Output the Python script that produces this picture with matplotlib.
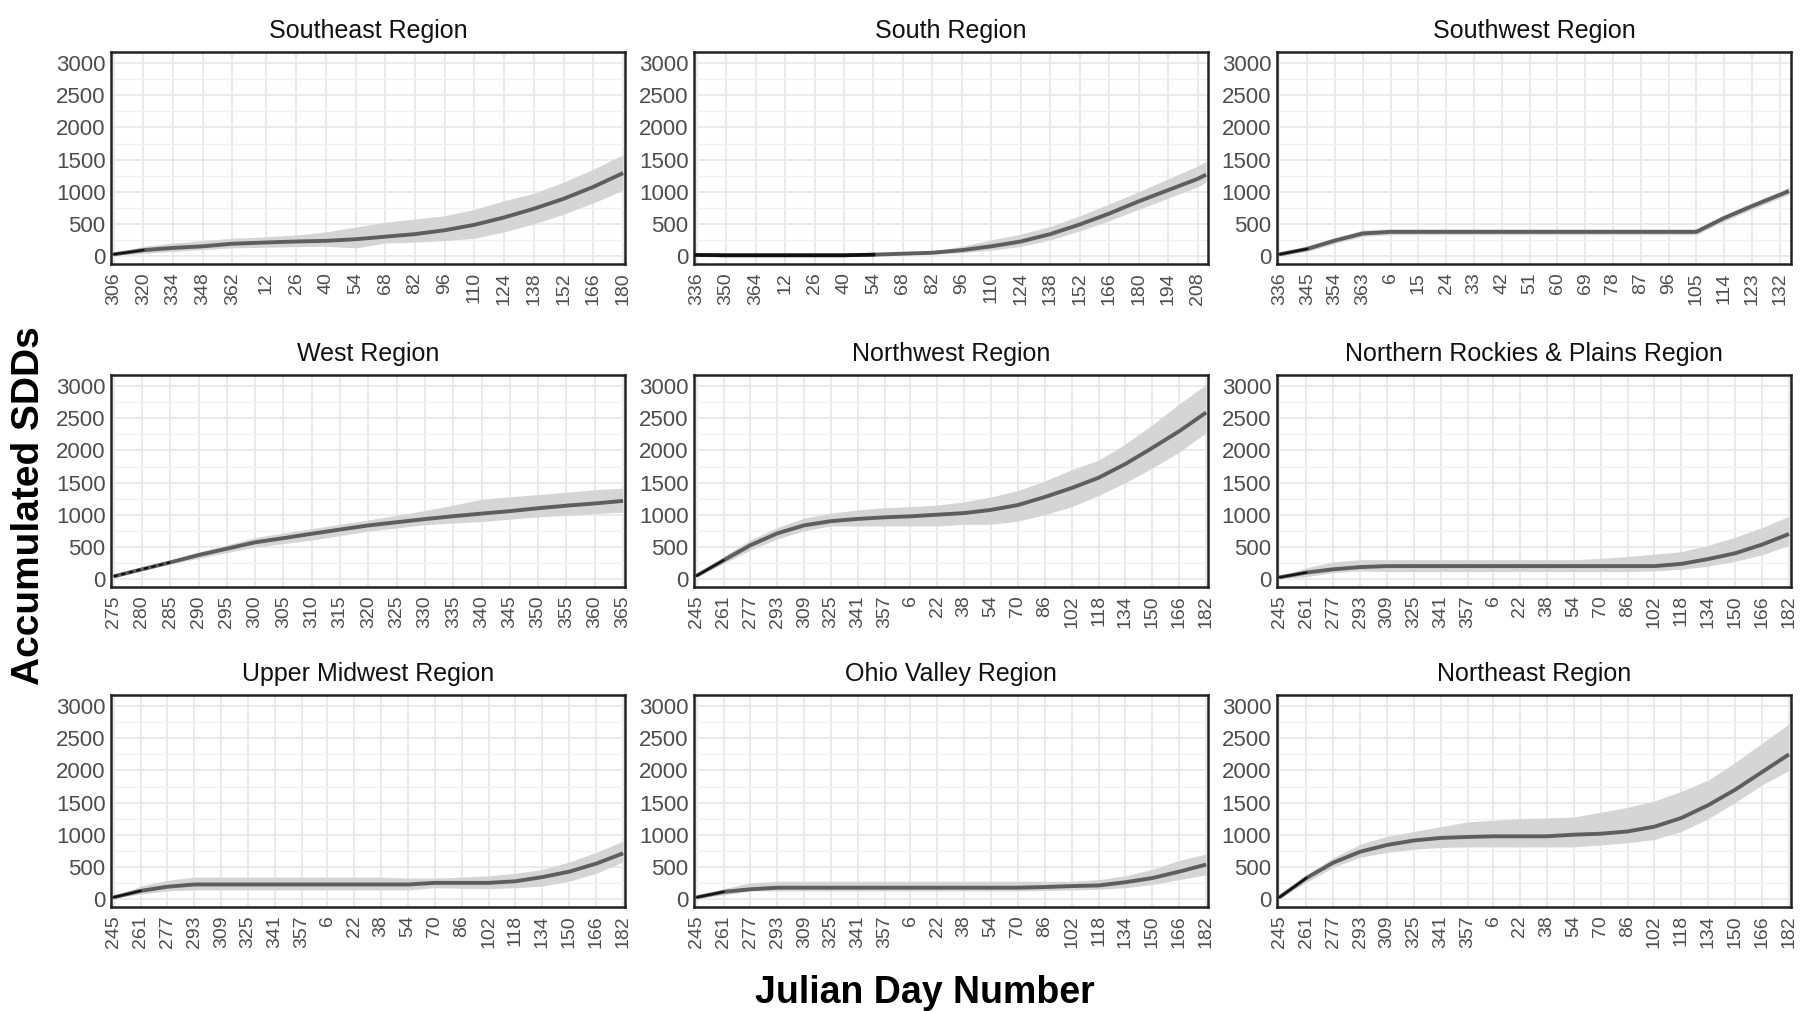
import matplotlib.pyplot as plt
from matplotlib import font_manager
from matplotlib.ticker import MultipleLocator

# narrow sans if available, otherwise regular Liberation Sans
names = {f.name for f in font_manager.fontManager.ttflist}
base_font = 'Liberation Sans Narrow' if 'Liberation Sans Narrow' in names else 'Liberation Sans'
plt.rcParams['font.family'] = [base_font, 'DejaVu Sans']

titles = ['Southeast Region', 'South Region', 'Southwest Region',
          'West Region', 'Northwest Region', 'Northern Rockies & Plains Region',
          'Upper Midwest Region', 'Ohio Valley Region', 'Northeast Region']

# tick labels (Julian day) for each region
se_days = [306, 320, 334, 348, 362, 12, 26, 40, 54, 68, 82, 96, 110, 124, 138, 152, 166, 180]
s_days = [336, 350, 364, 12, 26, 40, 54, 68, 82, 96, 110, 124, 138, 152, 166, 180, 194, 208]
sw_days = [336, 345, 354, 363, 6, 15, 24, 33, 42, 51, 60, 69, 78, 87, 96, 105, 114, 123, 132]
w_days = [275, 280, 285, 290, 295, 300, 305, 310, 315, 320, 325, 330, 335, 340, 345, 350, 355, 360, 365]
fall_days = [245, 261, 277, 293, 309, 325, 341, 357, 6, 22, 38, 54, 70, 86, 102, 118, 134, 150, 166, 182]

# series sampled at the tick days (plus a last day where the record runs past the final tick)
se_x = se_days
se_mean = [25, 90, 125, 150, 190, 210, 225, 235, 260, 300, 340, 400, 485, 600, 735, 890, 1075, 1290]
se_hi = [40, 150, 200, 240, 275, 300, 325, 375, 450, 525, 575, 625, 725, 860, 975, 1150, 1350, 1575]
se_lo = [10, 40, 70, 100, 125, 135, 145, 150, 125, 200, 215, 240, 275, 375, 500, 650, 825, 1025]

s_x = s_days + [212]
s_mean = [15, 10, 10, 10, 10, 10, 20, 35, 50, 90, 150, 225, 340, 490, 660, 850, 1025, 1200, 1265]
s_hi = [25, 20, 20, 20, 20, 20, 35, 55, 75, 150, 250, 340, 460, 625, 810, 1000, 1200, 1400, 1475]
s_lo = [5, 0, 0, 0, 0, 0, 5, 15, 30, 50, 90, 150, 250, 390, 550, 725, 900, 1075, 1150]

sw_x = sw_days + [135]
sw_mean = [25, 110, 240, 350, 375, 375, 375, 375, 375, 375, 375, 375, 375, 375, 375, 375, 590, 775, 950, 1010]
sw_hi = [45, 155, 285, 405, 420, 420, 420, 420, 420, 420, 420, 420, 420, 420, 420, 420, 640, 825, 1005, 1075]
sw_lo = [5, 70, 195, 305, 330, 330, 330, 330, 330, 330, 330, 330, 330, 330, 330, 330, 540, 725, 900, 955]

w_x = w_days
w_mean = [40, 150, 258, 372, 471, 570, 635, 704, 769, 833, 883, 932, 977, 1017, 1056, 1101, 1141, 1175, 1215]
w_hi = [50, 170, 285, 420, 530, 645, 715, 784, 850, 918, 990, 1066, 1150, 1240, 1280, 1314, 1350, 1389, 1413]
w_lo = [30, 130, 235, 322, 410, 496, 550, 605, 675, 744, 795, 843, 870, 893, 930, 967, 990, 1017, 1041]

nw_mean = [50, 290, 525, 710, 835, 900, 935, 960, 975, 1000, 1025, 1075, 1150, 1275, 1415, 1575, 1790, 2040, 2300, 2590]
nw_hi = [60, 350, 610, 800, 950, 1025, 1075, 1110, 1125, 1150, 1200, 1275, 1375, 1525, 1700, 1850, 2100, 2400, 2725, 3025]
nw_lo = [40, 240, 450, 625, 750, 825, 825, 825, 825, 825, 850, 850, 900, 1000, 1125, 1300, 1500, 1725, 1975, 2275]

nr_mean = [25, 100, 150, 185, 200, 200, 200, 200, 200, 200, 200, 200, 200, 200, 200, 235, 310, 400, 535, 700]
nr_hi = [35, 175, 265, 300, 300, 300, 300, 300, 300, 300, 300, 300, 320, 350, 385, 425, 525, 650, 800, 975]
nr_lo = [15, 35, 100, 125, 115, 115, 115, 115, 115, 115, 115, 115, 115, 115, 125, 150, 200, 275, 375, 525]

um_mean = [25, 125, 190, 225, 225, 225, 225, 225, 225, 225, 225, 225, 250, 250, 250, 275, 340, 425, 550, 710]
um_hi = [35, 200, 290, 340, 340, 340, 340, 340, 340, 340, 340, 325, 325, 340, 360, 400, 460, 575, 725, 900]
um_lo = [15, 75, 125, 140, 140, 140, 140, 140, 140, 140, 140, 140, 175, 165, 160, 175, 200, 275, 400, 575]

ov_mean = [25, 110, 150, 175, 175, 175, 175, 175, 175, 175, 175, 175, 175, 185, 200, 210, 260, 325, 425, 535]
ov_hi = [35, 160, 250, 275, 275, 275, 275, 275, 275, 275, 275, 275, 275, 275, 275, 300, 360, 460, 600, 700]
ov_lo = [15, 60, 125, 125, 125, 125, 125, 125, 125, 125, 125, 125, 125, 130, 140, 150, 175, 225, 300, 375]

ne_mean = [25, 325, 565, 735, 840, 910, 950, 965, 975, 975, 975, 1000, 1015, 1050, 1125, 1260, 1460, 1700, 1975, 2250]
ne_hi = [35, 375, 640, 850, 975, 1050, 1125, 1200, 1225, 1250, 1260, 1275, 1350, 1425, 1525, 1675, 1850, 2125, 2425, 2725]
ne_lo = [15, 260, 490, 650, 725, 775, 800, 810, 810, 810, 810, 810, 840, 875, 925, 1050, 1250, 1500, 1775, 2000]

# day where the dark starting trace gives way to the grey mean line
dark_end = [320, 54, 345, 285, 261, 261, 261, 261, 261]

panels = [
    (se_days, se_x, se_mean, se_hi, se_lo),
    (s_days, s_x, s_mean, s_hi, s_lo),
    (sw_days, sw_x, sw_mean, sw_hi, sw_lo),
    (w_days, w_x, w_mean, w_hi, w_lo),
    (fall_days, fall_days, nw_mean, nw_hi, nw_lo),
    (fall_days, fall_days, nr_mean, nr_hi, nr_lo),
    (fall_days, fall_days, um_mean, um_hi, um_lo),
    (fall_days, fall_days, ov_mean, ov_hi, ov_lo),
    (fall_days, fall_days, ne_mean, ne_hi, ne_lo),
]


def season_pos(days, start):
    # days since the start of the season, wrapping over the new year
    return [(d - start) % 366 for d in days]


fig = plt.figure(figsize=(18, 10.11), dpi=100)

lefts = [0.0617, 0.3856, 0.7094]
bottoms = [0.7389, 0.4194, 0.1029]
w, h = 0.2856, 0.2097

for k, (ticks, xs, mean, hi, lo) in enumerate(panels):
    r, c = divmod(k, 3)
    ax = fig.add_axes([lefts[c], bottoms[r], w, h])
    start = ticks[0]
    px = season_pos(xs, start)
    tx = season_pos(ticks, start)

    ax.fill_between(px, lo, hi, color='#d5d5d5', lw=0, zorder=2)
    ax.plot(px, mean, color='#5e5e5e', lw=2.8, solid_capstyle='butt', zorder=3)
    n_dark = season_pos([dark_end[k]], start)[0]
    dx = [p for p in px if p <= n_dark]
    if k == 1:
        ax.plot(dx, mean[:len(dx)], color='#111111', lw=2.6, zorder=4)
    elif k == 3:
        ax.plot(dx, mean[:len(dx)], color='#111111', lw=1.6, ls=(0, (2, 1.5)), zorder=4)
    else:
        ax.plot(dx, mean[:len(dx)], color='#111111', lw=1.6, zorder=4)

    span = px[-1] - px[0]
    ax.set_xlim(px[0] - 0.005 * span, px[-1] + 0.004 * span)
    ax.set_ylim(-125, 3175)
    ax.set_xticks(tx)
    ax.set_xticklabels([str(t) for t in ticks], rotation=90, fontsize=14,
                       color='#4d4d4d', family=['Liberation Sans', 'DejaVu Sans'])
    ax.set_yticks(range(0, 3001, 500))
    ax.yaxis.set_minor_locator(MultipleLocator(250))
    ax.tick_params(axis='y', labelsize=16, colors='#4d4d4d', length=0, pad=4)
    ax.tick_params(axis='x', length=0, pad=6)
    ax.tick_params(which='minor', length=0)
    ax.grid(which='major', color='#e8e8e8', lw=1.3, zorder=0)
    ax.grid(which='minor', axis='y', color='#f0f0f0', lw=1.0, zorder=0)
    ax.set_axisbelow(True)
    for sp in ax.spines.values():
        sp.set_color('#222222')
        sp.set_linewidth(1.8)
    ax.set_title(titles[k], fontsize=18, color='#111111', pad=10)

fig.text(0.514, 0.018, 'Julian Day Number', ha='center', va='center',
         fontsize=27, fontweight='bold')
fig.text(0.016, 0.5, 'Accumulated SDDs', ha='center', va='center',
         rotation=90, fontsize=28, fontweight='bold', family=['Liberation Sans', 'DejaVu Sans'])

fig.savefig('out.png', dpi=100)
